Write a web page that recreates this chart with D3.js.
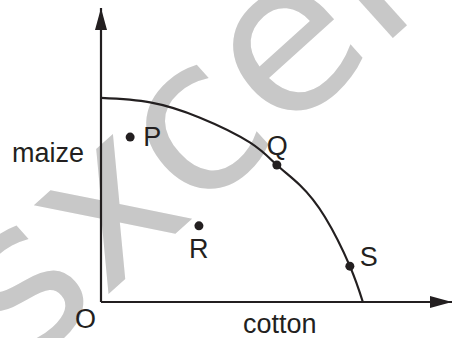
<!DOCTYPE html>
<html>
<head>
<meta charset="utf-8">
<script src="https://cdn.jsdelivr.net/npm/d3@7"></script>
<style>
  body { margin: 0; background: #fff; }
  svg { display: block; }
  text { font-family: "Liberation Sans", Arial, sans-serif; fill: #231f20; }
</style>
</head>
<body>
<div id="chart"></div>
<script>
// frontier (cotton, maize), arbitrary units 0-100
var frontier_cotton = [0, 14.0, 28.2, 42.5, 50.1, 56.7, 63.8, 70.9, 74.6];
var frontier_maize  = [69.4, 67.9, 62.7, 54.2, 46.6, 39.7, 28.9, 12.2, 0];

var point_names  = ['P', 'Q', 'R', 'S'];
var point_cotton = [8.3, 50.1, 27.9, 70.9];
var point_maize  = [56.1, 46.6, 25.9, 12.2];
// label offsets (px) from each point
var label_dx = [13, -10, -10, 10];
var label_dy = [9, -10, 32, 0];

var axis_labels = { x: 'cotton', y: 'maize', origin: 'O' };

var width = 454,
    height = 338,
    ink = '#231f20';

var svg = d3.select('#chart').append('svg')
  .attr('width', width)
  .attr('height', height);

// watermark behind everything
svg.append('text')
  .attr('transform', 'translate(22,372) rotate(-42)')
  .attr('font-size', 212)
  .style('font-family', '"DejaVu Sans", sans-serif')
  .style('fill', '#c8c8c8')
  .text('sxcel');

var x = d3.scaleLinear().domain([0, 100]).range([101, 452]);
var y = d3.scaleLinear().domain([0, 100]).range([302, 8]);

var defs = svg.append('defs');
defs.append('marker')
  .attr('id', 'arrow')
  .attr('viewBox', '0 0 22 12')
  .attr('refX', 22)
  .attr('refY', 6)
  .attr('markerWidth', 22)
  .attr('markerHeight', 12)
  .attr('markerUnits', 'userSpaceOnUse')
  .attr('orient', 'auto')
  .append('path')
  .attr('d', 'M0,0 L22,6 L0,12 Z')
  .attr('fill', ink);

// axes
svg.append('line')
  .attr('x1', x(0)).attr('y1', y(0))
  .attr('x2', x(0)).attr('y2', y(100))
  .attr('stroke', ink).attr('stroke-width', 2.2)
  .attr('marker-end', 'url(#arrow)');

svg.append('line')
  .attr('x1', x(0)).attr('y1', y(0))
  .attr('x2', x(100)).attr('y2', y(0))
  .attr('stroke', ink).attr('stroke-width', 2.2)
  .attr('marker-end', 'url(#arrow)');

// frontier curve
var line = d3.line()
  .x(function(d, i) { return x(frontier_cotton[i]); })
  .y(function(d, i) { return y(frontier_maize[i]); })
  .curve(d3.curveNatural);

svg.append('path')
  .attr('d', line(frontier_cotton))
  .attr('fill', 'none')
  .attr('stroke', ink)
  .attr('stroke-width', 2.2);

// points
var pts = svg.append('g');
pts.selectAll('circle')
  .data(point_names)
  .enter().append('circle')
  .attr('cx', function(d, i) { return x(point_cotton[i]); })
  .attr('cy', function(d, i) { return y(point_maize[i]); })
  .attr('r', 4.5)
  .attr('fill', ink);

pts.selectAll('text')
  .data(point_names)
  .enter().append('text')
  .attr('x', function(d, i) { return x(point_cotton[i]) + label_dx[i]; })
  .attr('y', function(d, i) { return y(point_maize[i]) + label_dy[i]; })
  .attr('font-size', 27)
  .text(Object);

svg.append('text').attr('x', 12).attr('y', 162).attr('font-size', 27).text(axis_labels.y);
svg.append('text').attr('x', 243).attr('y', 333).attr('font-size', 27).text(axis_labels.x);
svg.append('text').attr('x', 75).attr('y', 328).attr('font-size', 27).text(axis_labels.origin);
</script>
</body>
</html>
